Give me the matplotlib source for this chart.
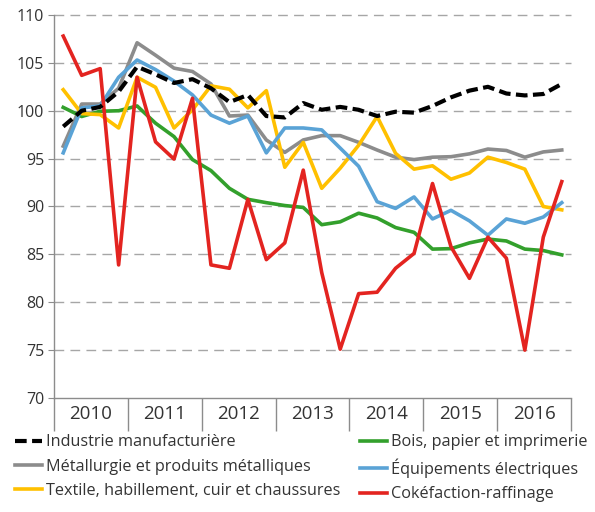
import numpy as np
import matplotlib
matplotlib.use("Agg")
import matplotlib.pyplot as plt

plt.rcParams['font.family'] = ['Open Sans', 'DejaVu Sans']

# quarterly index values, 2010 Q1 .. 2016 Q4
years = [2010, 2011, 2012, 2013, 2014, 2015, 2016]

industrie = [98.35, 100.0, 100.4, 102.0, 104.6, 103.8, 102.9, 103.3,
             102.35, 100.9, 101.65, 99.45, 99.3, 100.8, 100.1, 100.4,
             100.1, 99.45, 99.9, 99.8, 100.5, 101.4, 102.1, 102.5,
             101.8, 101.6, 101.75, 102.8]
metallurgie = [96.3, 100.7, 100.7, 102.35, 107.1, 105.8, 104.45, 104.1,
               102.8, 99.45, 99.55, 96.95, 95.65, 96.95, 97.4, 97.4,
               96.7, 95.9, 95.15, 94.9, 95.15, 95.2, 95.5, 96.0,
               95.85, 95.15, 95.7, 95.9]
textile = [102.2, 99.7, 99.6, 98.2, 103.5, 102.45, 98.2, 100.1,
           102.6, 102.25, 100.3, 102.1, 94.1, 96.7, 91.9, 94.0,
           96.4, 99.4, 95.55, 93.9, 94.25, 92.85, 93.5, 95.15,
           94.6, 93.9, 90.0, 89.65]
bois = [100.35, 99.4, 99.95, 100.0, 100.5, 98.7, 97.3, 94.9,
        93.75, 91.9, 90.75, 90.4, 90.1, 89.9, 88.1, 88.4,
        89.3, 88.8, 87.8, 87.3, 85.55, 85.6, 86.2, 86.6,
        86.4, 85.55, 85.4, 84.95]
equipements = [95.6, 100.3, 100.5, 103.5, 105.3, 104.3, 103.1, 101.65,
               99.55, 98.7, 99.45, 95.6, 98.2, 98.2, 98.0, 96.1,
               94.2, 90.5, 89.8, 91.0, 88.7, 89.6, 88.5, 87.0,
               88.7, 88.25, 88.9, 90.4]
cokefaction = [107.8, 103.7, 104.4, 83.9, 103.5, 96.75, 94.95, 101.3,
               83.9, 83.55, 90.75, 84.45, 86.2, 93.8, 83.1, 75.1,
               80.9, 81.05, 83.55, 85.1, 92.4, 85.8, 82.5, 86.8,
               84.6, 75.0, 86.8, 92.6]

series = [
    ("Industrie manufacturière", industrie, "#000000", "--", 6),
    ("Métallurgie et produits métalliques", metallurgie, "#8c8c8c", "-", 2),
    ("Textile, habillement, cuir et chaussures", textile, "#ffc000", "-", 3),
    ("Bois, papier et imprimerie", bois, "#33a02c", "-", 2),
    ("Équipements électriques", equipements, "#5aa3d6", "-", 4),
    ("Cokéfaction-raffinage", cokefaction, "#e32420", "-", 5),
]

x = years[0] + (np.arange(len(industrie)) + 0.5) / 4.0

fig = plt.figure(figsize=(5.95, 5.12), dpi=100)
ax = fig.add_axes([54 / 595, 1 - 398 / 512, 517 / 595, 383 / 512])

handles = []
for label, vals, color, ls, z in series:
    if ls == "--":
        h, = ax.plot(x, vals, color=color, lw=3.0, dashes=(2.8, 1.3), label=label, zorder=z)
    else:
        h, = ax.plot(x, vals, color=color, lw=2.6, label=label, zorder=z)
    handles.append(h)

ax.set_ylim(70, 110)
ax.set_xlim(2010, 2017)
ax.set_yticks(np.arange(70, 111, 5))
for v in range(75, 111, 5):
    ax.axhline(v, color="#a6a6a6", lw=1.0, dashes=(7, 4.5), zorder=1, clip_on=False)

ax.spines['top'].set_visible(False)
ax.spines['right'].set_visible(False)
ax.spines['left'].set_color("#8c8c8c")
ax.spines['bottom'].set_color("#8c8c8c")
ax.spines['left'].set_linewidth(1.0)
ax.spines['bottom'].set_linewidth(1.0)

ax.tick_params(axis='y', colors="#8c8c8c", labelcolor="#333333", length=4, labelsize=11.5, pad=3)

# year separators as long major ticks, year names on minor ticks
ax.set_xticks(list(range(2010, 2018)))
ax.set_xticklabels([])
ax.set_xticks([y + 0.5 for y in years], minor=True)
ax.set_xticklabels([str(y) for y in years], minor=True)
ax.tick_params(axis='x', which='major', length=24, width=1.0, color="#8c8c8c", direction='out')
ax.tick_params(axis='x', which='minor', length=0, labelsize=13.5, labelcolor="#333333", pad=5)

leg_kw = dict(loc='upper left', frameon=False, fontsize=11.7, handlelength=1.7,
              handletextpad=0.25, labelspacing=0.5, borderaxespad=0, labelcolor="#333333")
fig.legend(handles=handles[:3], bbox_to_anchor=(8 / 595, 1 - 428 / 512), **leg_kw)
fig.legend(handles=handles[3:], bbox_to_anchor=(353 / 595, 1 - 428 / 512), **leg_kw)

fig.savefig("out.png", dpi=100)
